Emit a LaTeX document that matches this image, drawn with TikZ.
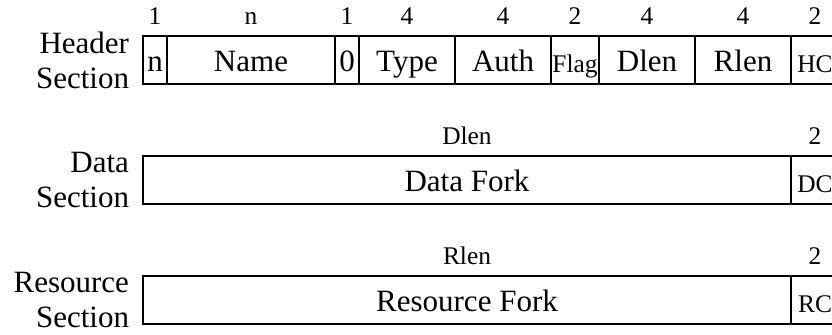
\documentclass[tikz,border=0pt]{standalone}
\usepackage{fontspec}
\setmainfont{Liberation Serif}
\usetikzlibrary{positioning}

\newcommand{\cellfont}{\fontsize{15.5}{17.5}\selectfont}
\newcommand{\tinyfont}{\fontsize{12.7}{14}\selectfont}

\tikzset{
  cell/.style={draw, line width=1.4pt, minimum height=24pt, inner sep=0pt,
    outer sep=0pt, text height=12pt, text depth=0pt, font=\cellfont},
  smallcell/.style={cell, text height=12.2pt, font=\tinyfont},
  toplabel/.style={inner sep=0pt, label distance=5.5pt, font=\tinyfont},
  seclabel/.style={inner sep=0pt, align=right, font=\cellfont}
}

\begin{document}
\begin{tikzpicture}
    \useasboundingbox (0,0) rectangle (416pt,-167.5pt);
    \clip (0,0) rectangle (416pt,-167.5pt);
      % header section
      \node [cell, anchor=west, minimum width=12pt,
        label={[toplabel]above:1}] (hn) at (71.5pt,-30pt) {n};
      \node [cell, right=0pt of hn, minimum width=84pt,
        label={[toplabel]above:n}] (hname) {Name};
      \node [cell, right=0pt of hname, minimum width=12pt,
        label={[toplabel]above:1}] (hzero) {0};
      \node [cell, right=0pt of hzero, minimum width=48pt,
        label={[toplabel]above:4}] (htype) {Type};
      \node [cell, right=0pt of htype, minimum width=48pt,
        label={[toplabel]above:4}] (hauth) {Auth};
      \node [smallcell, right=0pt of hauth, minimum width=24pt,
        label={[toplabel]above:2}] (hflag) {Flag};
      \node [cell, right=0pt of hflag, minimum width=48pt,
        label={[toplabel]above:4}] (hdlen) {Dlen};
      \node [cell, right=0pt of hdlen, minimum width=48pt,
        label={[toplabel]above:4}] (hrlen) {Rlen};
      \node [smallcell, right=0pt of hrlen, minimum width=24pt,
        label={[toplabel]above:2}] (hhc) {HC};
      \node [seclabel, left=6.8pt of hn] (hsec) {Header\\Section};

      % data section
      \node [cell, anchor=west, minimum width=324pt,
        label={[toplabel]above:Dlen}] (dfork) at (71.5pt,-90pt) {Data Fork};
      \node [smallcell, right=0pt of dfork, minimum width=24pt,
        label={[toplabel]above:2}] (ddc) {DC};
      \node [seclabel, left=6.8pt of dfork] (dsec) {Data\\Section};

      % resource section
      \node [cell, anchor=west, minimum width=324pt,
        label={[toplabel]above:Rlen}] (rfork) at (71.5pt,-150pt) {Resource Fork};
      \node [smallcell, right=0pt of rfork, minimum width=24pt,
        label={[toplabel]above:2}] (rrc) {RC};
      \node [seclabel, left=6.8pt of rfork] (rsec) {Resource\\Section};
    \end{tikzpicture}
\end{document}
